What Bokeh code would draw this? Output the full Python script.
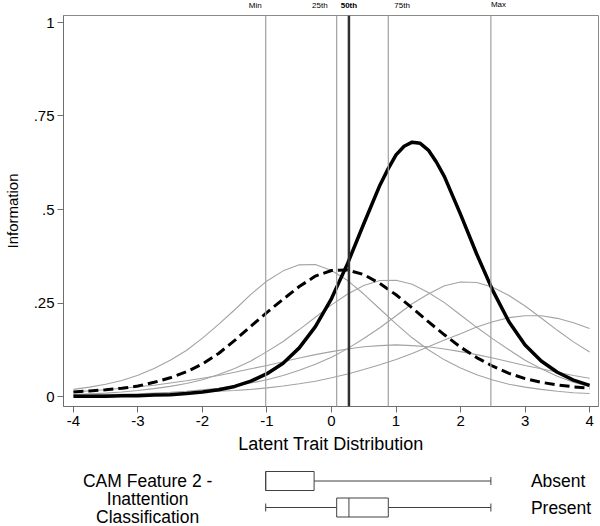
from bokeh.plotting import figure
from bokeh.models import Range1d, FixedTicker, Span
from bokeh.layouts import column
from bokeh.embed import file_html
from bokeh.resources import INLINE
from bokeh.core.properties import value

# ---------------- data ----------------
theta = [-4.0, -3.75, -3.5, -3.25, -3.0, -2.75, -2.5, -2.25, -2.0, -1.75, -1.5, -1.25,
         -1.0, -0.75, -0.5, -0.25, 0.0, 0.25, 0.5, 0.75, 1.0, 1.25, 1.5, 1.75, 2.0,
         2.25, 2.5, 2.75, 3.0, 3.25, 3.5, 3.75, 4.0]

theta_thick = [-4.0, -3.75, -3.5, -3.25, -3.0, -2.75, -2.5, -2.25, -2.0, -1.75, -1.5, -1.25,
               -1.0, -0.75, -0.5, -0.25, 0.0, 0.25, 0.5, 0.75, 0.875, 1.0, 1.125, 1.25,
               1.375, 1.5, 1.625, 1.75, 2.0, 2.25, 2.5, 2.75, 3.0, 3.25, 3.5, 3.75, 4.0]
info_thick = [0.001, 0.001, 0.001, 0.002, 0.002, 0.004, 0.005, 0.008, 0.012, 0.018, 0.027,
              0.041, 0.061, 0.089, 0.130, 0.187, 0.262, 0.356, 0.462, 0.565, 0.608, 0.646,
              0.669, 0.680, 0.677, 0.659, 0.627, 0.588, 0.487, 0.381, 0.283, 0.200, 0.138,
              0.095, 0.065, 0.044, 0.030]

info_dashed = [0.012, 0.015, 0.018, 0.022, 0.028, 0.038, 0.050, 0.066, 0.087, 0.115, 0.150,
               0.188, 0.225, 0.260, 0.294, 0.322, 0.337, 0.338, 0.326, 0.302, 0.272, 0.237,
               0.200, 0.165, 0.132, 0.104, 0.081, 0.062, 0.048, 0.038, 0.031, 0.026, 0.022]

item_1 = [0.019, 0.025, 0.033, 0.043, 0.057, 0.075, 0.097, 0.123, 0.156, 0.193, 0.232, 0.273,
          0.309, 0.336, 0.352, 0.353, 0.337, 0.310, 0.274, 0.234, 0.194, 0.157, 0.125, 0.098,
          0.076, 0.058, 0.044, 0.033, 0.025, 0.019, 0.014, 0.010, 0.008]

item_2 = [0.005, 0.007, 0.009, 0.012, 0.016, 0.021, 0.027, 0.035, 0.045, 0.059, 0.075, 0.095,
          0.120, 0.147, 0.179, 0.212, 0.245, 0.274, 0.297, 0.310, 0.311, 0.300, 0.278, 0.251,
          0.218, 0.185, 0.154, 0.125, 0.097, 0.074, 0.054, 0.038, 0.026]

item_3 = [0.003, 0.003, 0.005, 0.006, 0.007, 0.009, 0.011, 0.014, 0.018, 0.022, 0.028, 0.036,
          0.045, 0.056, 0.070, 0.086, 0.105, 0.128, 0.155, 0.184, 0.216, 0.248, 0.274, 0.296,
          0.306, 0.305, 0.292, 0.270, 0.242, 0.210, 0.177, 0.146, 0.119]

item_4 = [0.003, 0.003, 0.004, 0.005, 0.006, 0.007, 0.008, 0.010, 0.012, 0.014, 0.016, 0.019,
          0.023, 0.028, 0.034, 0.041, 0.050, 0.060, 0.072, 0.085, 0.099, 0.115, 0.133, 0.151,
          0.168, 0.186, 0.200, 0.211, 0.216, 0.216, 0.209, 0.197, 0.182]

item_5 = [0.013, 0.015, 0.018, 0.022, 0.026, 0.030, 0.036, 0.042, 0.049, 0.056, 0.065, 0.074,
          0.083, 0.093, 0.103, 0.112, 0.120, 0.127, 0.133, 0.136, 0.138, 0.136, 0.133, 0.127,
          0.120, 0.112, 0.103, 0.093, 0.083, 0.074, 0.065, 0.056, 0.049]

pct_labels = ["Min", "25th", "50th", "75th", "Max"]
pct_values = [-1.02, 0.08, 0.27, 0.88, 2.47]

groups = ["Absent", "Present"]
box_min = [-1.02, -1.02]
box_q1 = [-1.02, 0.08]
box_med = [-1.02, 0.27]
box_q3 = [-0.27, 0.88]
box_max = [2.47, 2.47]
group_title = ["CAM Feature 2 -", "Inattention", "Classification"]

x_ticks = [-4, -3, -2, -1, 0, 1, 2, 3, 4]
x_tick_labels = ["-4", "-3", "-2", "-1", "0", "1", "2", "3", "4"]
y_ticks = [0, 0.25, 0.5, 0.75, 1]
y_tick_labels = ["0", ".25", ".5", ".75", "1"]

FONT = "Liberation Sans"
GRAY = "#a3a3a3"
AXC = "#6e6e6e"
W = 600
LB, RB = 58, 2
XR = Range1d(-4.154, 4.138)

# ---------------- percentile labels strip (top) ----------------
TH = 14
tp = figure(width=W, height=TH, x_range=XR, y_range=Range1d(0, TH),
            output_backend="svg", toolbar_location=None, min_border_left=LB,
            min_border_right=RB, min_border_top=0, min_border_bottom=0,
            x_axis_location=None, y_axis_location=None, outline_line_color=None)
tp.grid.visible = False
label_style = {"Min": ("right", -4, 0, "normal"),
               "25th": ("right", -9, 0, "normal"),
               "50th": ("center", 0, 0, "bold"),
               "75th": ("left", 6, 0, "normal"),
               "Max": ("left", 0, 1, "normal")}
for lab, v in zip(pct_labels, pct_values):
    al, xo, yo, fs = label_style[lab]
    tp.text(x=[v], y=[9], text=[lab], x_offset=xo, y_offset=-yo, text_align=al,
            text_baseline="middle", text_font=value(FONT), text_font_size="8px",
            text_font_style=fs, text_color="black")

# ---------------- main plot ----------------
p = figure(width=W, height=446, x_range=XR, y_range=Range1d(-0.0267, 1.0187),
           output_backend="svg", toolbar_location=None, min_border_left=LB,
           min_border_right=RB, min_border_top=1, min_border_bottom=54)
p.grid.visible = False
p.outline_line_color = "#8a8a8a"
p.background_fill_color = "white"

p.xaxis.ticker = FixedTicker(ticks=x_ticks)
p.xaxis.major_label_overrides = {t: s for t, s in zip(x_ticks, x_tick_labels)}
p.yaxis.ticker = FixedTicker(ticks=y_ticks)
p.yaxis.major_label_overrides = {float(t): s for t, s in zip(y_ticks, y_tick_labels)}
for ax in (p.xaxis, p.yaxis):
    ax.minor_tick_line_color = None
    ax.major_tick_out = 6
    ax.major_tick_in = 0
    ax.axis_line_color = AXC
    ax.major_tick_line_color = AXC
    ax.major_label_text_font = FONT
    ax.major_label_text_font_size = "15px"
    ax.major_label_text_color = "black"
    ax.axis_label_text_font = FONT
    ax.axis_label_text_font_style = "normal"
    ax.axis_label_text_color = "black"
    ax.major_label_standoff = 3
p.xaxis.axis_label = "Latent Trait Distribution"
p.xaxis.axis_label_text_font_size = "18px"
p.xaxis.axis_label_standoff = 5
p.yaxis.axis_label = "Information"
p.yaxis.axis_label_text_font_size = "15px"
p.yaxis.axis_label_standoff = 10

for lab, v in zip(pct_labels, pct_values):
    if lab == "50th":
        p.add_layout(Span(location=v, dimension="height", line_color="#303030", line_width=2.5))
    else:
        p.add_layout(Span(location=v, dimension="height", line_color="#a0a0a0", line_width=1.2))

for item in (item_1, item_2, item_3, item_4, item_5):
    p.line(theta, item, line_color=GRAY, line_width=1.1)
p.line(theta, info_dashed, line_color="black", line_width=3, line_dash="10 5")
p.line(theta_thick, info_thick, line_color="black", line_width=3.5, line_join="round")

# ---------------- box plots ----------------
BH = 66
bp = figure(width=W, height=BH, x_range=XR, y_range=Range1d(0, BH),
            output_backend="svg", toolbar_location=None, min_border_left=LB,
            min_border_right=RB, min_border_top=0, min_border_bottom=0,
            x_axis_location=None, y_axis_location=None, outline_line_color=None)
bp.grid.visible = False

group_y = {"Absent": 45.5, "Present": 19}
BOXC = "#404040"
for g, mn, q1, md, q3, mx in zip(groups, box_min, box_q1, box_med, box_q3, box_max):
    yc = group_y[g]
    bp.segment(x0=[mn, q3], y0=[yc, yc], x1=[q1, mx], y1=[yc, yc], line_color=BOXC, line_width=1)
    bp.segment(x0=[mn, mx], y0=[yc - 4, yc - 4], x1=[mn, mx], y1=[yc + 4, yc + 4],
               line_color=BOXC, line_width=1)
    bp.quad(left=[q1], right=[q3], bottom=[yc - 9.5], top=[yc + 9.5], fill_color="white",
            line_color=BOXC, line_width=1)
    bp.segment(x0=[md], y0=[yc - 9.5], x1=[md], y1=[yc + 9.5], line_color=BOXC, line_width=1)
    bp.text(x=[3.09], y=[yc], text=[g], text_align="left", text_baseline="middle",
            text_font=value(FONT), text_font_size="17.5px", text_color="black")

title_y = [46, 28, 10]
bp.text(x=[-2.85] * 3, y=title_y, text=group_title, text_align="center",
        text_baseline="middle", text_font=value(FONT), text_font_size="17.5px",
        text_color="black")

layout = column(tp, p, bp, spacing=0)
open("out.html", "w").write(file_html(layout, INLINE))
